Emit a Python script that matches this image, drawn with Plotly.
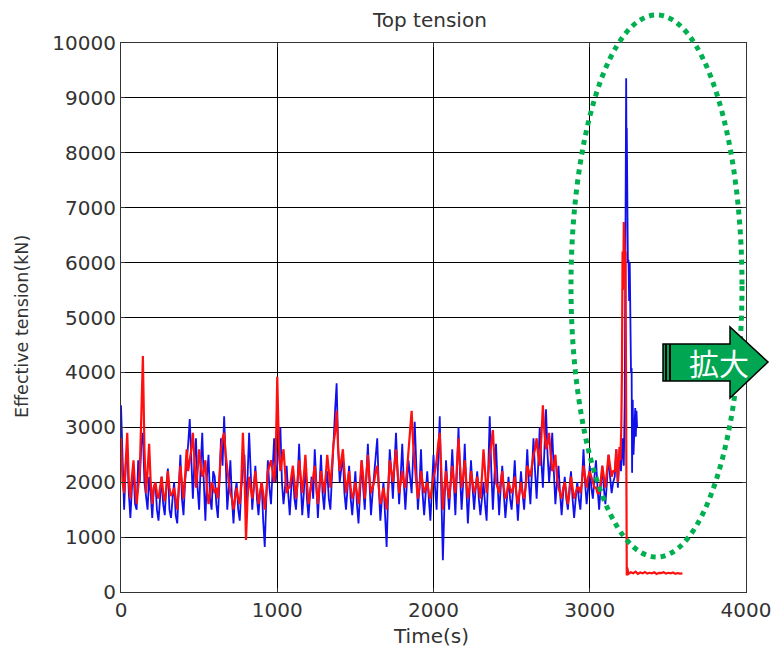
import plotly.graph_objects as go

# ---------------- data ----------------
step_times = list(range(0, 3160, 10))
blue_body = [
    3400, 2200, 1500, 2300, 2600, 1800, 1350, 1900, 2200, 1600, 1500, 2400, 2000, 2700, 2900, 2000, 1700, 1500, 2100, 1800,
    1350, 1900, 2000, 1500, 1300, 1800, 2100, 1600, 1400, 1900, 2250, 1500, 1350, 1700, 2000, 1400, 1250, 1900, 2500, 1700,
    1400, 2000, 2300, 2700, 3150, 2200, 1700, 2400, 2800, 1900, 1500, 2300, 2900, 2000, 1300, 2100, 2500, 1700, 1500, 2200,
    2100, 1600, 1350, 2000, 2800, 2300, 3200, 2400, 1500, 1900, 2400, 1700, 1250, 1800, 2000, 1500, 1300, 1900, 2200, 2500,
    1600, 2100, 2900, 2000, 1500, 1900, 2300, 1700, 1400, 1800, 2000, 1300, 820, 1700, 2400, 1900, 1600, 2200, 2800, 2000,
    2300, 2600, 3000, 2000, 1600, 1900, 2300, 1800, 1400, 1900, 2200, 1700, 1500, 2000, 2700, 2000, 1400, 1800, 2400, 1700,
    1350, 1800, 2100, 1700, 2600, 2000, 1350, 1900, 2500, 1800, 1500, 2000, 2200, 1700, 1500, 2100, 2800, 3300, 3800, 2600,
    2000, 2300, 2500, 1800, 1500, 1900, 2300, 1700, 1400, 1800, 2200, 1600, 1250, 1800, 2400, 1900, 1500, 2100, 2700, 2000,
    1400, 1800, 2100, 2500, 2800, 1900, 1300, 1700, 2000, 1400, 820, 1800, 2600, 2200, 1700, 2300, 2900, 2200, 1600, 2100,
    2700, 2000, 1500, 2000, 2400, 2100, 1800, 2500, 3100, 2300, 1500, 1900, 2600, 1800, 1400, 1800, 2200, 1700, 1300, 1900,
    2500, 1900, 1500, 2400, 3200, 1800, 580, 1600, 2400, 1900, 1500, 2000, 2600, 2000, 1400, 2200, 3000, 2100, 1500, 2000,
    2700, 1900, 1250, 1800, 2400, 1900, 1500, 1900, 2200, 1700, 1400, 1700, 2000, 1600, 1300, 2200, 3200, 2200, 1500, 2100,
    2700, 2000, 1400, 1900, 2300, 1800, 1350, 1700, 2100, 1700, 1500, 1900, 2400, 1800, 1300, 1800, 2200, 1800, 1500, 2000,
    2600, 2000, 1600, 2200, 2800, 2200, 1700, 2300, 3000, 2400, 1900, 2600, 3330, 2500, 2000, 2400, 2900, 2200, 1600, 2000,
    2300, 1800, 1400, 1800, 2100, 1700, 1500, 1900, 2200, 1700, 1350, 1700, 2000, 1700, 1500, 2000, 2600, 2000, 1600, 1900,
    2300, 1900, 1700, 2100, 2400, 1900, 1500, 1900, 2300, 1900, 1600, 2000, 2500, 2100, 1800, 2000]
red_body = [
    2800, 2000, 1800, 2400, 2900, 2000, 1700, 2100, 2400, 1900, 1600, 1900, 2200, 3200, 4300, 2600, 1800, 2200, 2700, 2000,
    1600, 1900, 2000, 1800, 1700, 1900, 2100, 1800, 1650, 1900, 2200, 1900, 1750, 1800, 1900, 1700, 1500, 1900, 2300, 2000,
    1700, 2100, 2600, 2200, 2400, 2600, 2900, 2300, 1900, 2200, 2600, 2300, 2100, 2200, 2400, 1900, 1600, 1800, 2000, 1900,
    1800, 1900, 1700, 2100, 2600, 2800, 2900, 2500, 2200, 2000, 1800, 1700, 1500, 1700, 1900, 1700, 1600, 2000, 2900, 2200,
    950, 1700, 2100, 1900, 1700, 1900, 2200, 1900, 1600, 1800, 2000, 1800, 1500, 1800, 2200, 2300, 2400, 2200, 2000, 2400,
    3920, 2700, 2200, 2400, 2600, 2200, 1800, 1900, 1900, 2100, 2300, 2000, 1700, 2000, 2400, 2100, 1800, 2100, 2500, 2000,
    1600, 1800, 2000, 2100, 2300, 1900, 1600, 1900, 2200, 2000, 1800, 2100, 2500, 2200, 1900, 2300, 2700, 2900, 3300, 2600,
    2200, 2400, 2600, 2200, 1800, 2000, 2200, 1900, 1700, 1800, 2000, 1800, 1600, 2000, 2400, 2100, 1700, 2100, 2500, 2100,
    1800, 1900, 2000, 2200, 2300, 1900, 1600, 1700, 1900, 1700, 1500, 1900, 2400, 2200, 2000, 2300, 2600, 2200, 1800, 2000,
    2200, 2000, 1900, 2200, 2600, 2900, 3300, 2700, 2300, 2000, 1700, 1900, 2200, 2000, 1800, 1900, 2000, 1800, 1700, 1900,
    2100, 2200, 2400, 2700, 2900, 2200, 1500, 1900, 2200, 1900, 1700, 2000, 2300, 2000, 1800, 2300, 2800, 2300, 1900, 2100,
    2400, 2000, 1700, 1900, 2200, 2000, 1800, 1900, 2100, 1900, 1700, 2100, 2600, 2200, 1800, 2100, 2500, 2700, 2950, 2400,
    2000, 1900, 1800, 2000, 2200, 1900, 1700, 1800, 2000, 1900, 1800, 1900, 2100, 1800, 1600, 1800, 2000, 1800, 1700, 1900,
    2300, 2200, 2100, 2300, 2500, 2600, 2800, 2500, 2300, 2800, 3400, 2900, 2600, 2700, 2900, 2500, 2200, 2300, 2500, 2100,
    1900, 1800, 1700, 1900, 2000, 1800, 1600, 1800, 2100, 1900, 1700, 1800, 1900, 1900, 1800, 2000, 2300, 2100, 1900, 2100,
    2200, 2100, 2000, 1900, 1900, 1800, 1800, 2000, 2300, 2100, 1900, 2200, 2500, 2300, 2100, 2200]

blue_spike_t = [3160, 3170, 3180, 3190, 3200, 3210, 3218, 3224, 3228, 3231,
                3233, 3235, 3237, 3239, 3241, 3244, 3248, 3252, 3256, 3260,
                3264, 3268, 3271, 3275, 3280, 3285, 3291, 3295, 3299, 3303]
blue_spike_v = [2100, 2600, 1900, 2500, 2200, 2800, 2300, 3500, 6000, 8450,
                9360, 8200, 8450, 6500, 8000, 6000, 6050, 5300, 6000, 5250,
                4000, 4080, 2170, 3500, 2500, 3100, 3350, 2830, 3300, 3000]

red_spike_t = [3160, 3170, 3180, 3190, 3196, 3202, 3206, 3210, 3214, 3218,
               3222, 3226, 3229, 3232, 3234, 3237, 3240, 3248, 3263, 3278,
               3293, 3308, 3323, 3338, 3353, 3368, 3383, 3398, 3413, 3428,
               3443, 3458, 3473, 3488, 3503, 3518, 3533, 3548, 3563, 3578, 3593]
red_spike_v = [2200, 2600, 2000, 2640, 2400, 3000, 4000, 6200, 5500, 6740,
               6200, 6000, 6200, 800, 820, 300, 440, 330, 360, 340,
               370, 330, 355, 340, 365, 335, 350, 340, 360, 330,
               350, 345, 360, 335, 350, 340, 355, 330, 345, 335, 340]

x_ticks = [0, 1000, 2000, 3000, 4000]
y_ticks = [0, 1000, 2000, 3000, 4000, 5000, 6000, 7000, 8000, 9000, 10000]

blue_t = step_times + blue_spike_t
blue_v = blue_body + blue_spike_v
red_t = step_times + red_spike_t
red_v = red_body + red_spike_v

# ---------------- layout geometry ----------------
W, H = 771, 648
L, R, T, B = 121, 746, 43, 592


def px(xp):
    return (xp - L) / (R - L)


def py(yp):
    return (B - yp) / (B - T)


fig = go.Figure()
fig.add_trace(go.Scatter(x=blue_t, y=blue_v, mode="lines",
                         line=dict(color="#1010ee", width=1.8), showlegend=False))
fig.add_trace(go.Scatter(x=red_t, y=red_v, mode="lines",
                         line=dict(color="#ff1010", width=2.2), showlegend=False))

font_family = "DejaVu Sans, sans-serif"
axis_common = dict(showgrid=True, gridcolor="black", gridwidth=1,
                   showline=True, linecolor="#333", linewidth=1.2, mirror="ticks",
                   ticks="inside", ticklen=4, tickcolor="#333", zeroline=False,
                   automargin=False, ticklabeloverflow="allow",
                   tickfont=dict(family=font_family, size=20, color="#333"))

fig.update_layout(
    width=W, height=H,
    margin=dict(l=L, r=W - R, t=T, b=H - B),
    paper_bgcolor="white", plot_bgcolor="white",
    xaxis=dict(range=[0, 4000], tickvals=x_ticks,
               ticktext=[str(v) for v in x_ticks], **axis_common),
    yaxis=dict(range=[0, 10000], tickvals=y_ticks,
               ticktext=[str(v) for v in y_ticks], **axis_common),
)

# titles
fig.add_annotation(text="Top tension", x=px(429), y=py(20), xref="paper", yref="paper",
                   xanchor="center", yanchor="middle", showarrow=False,
                   font=dict(family=font_family, size=20, color="#333"))
fig.add_annotation(text="Time(s)", x=px(431), y=py(636), xref="paper", yref="paper",
                   xanchor="center", yanchor="middle", showarrow=False,
                   font=dict(family=font_family, size=20, color="#333"))
fig.add_annotation(text="Effective tension(kN)", x=px(22), y=py(326), xref="paper", yref="paper",
                   xanchor="center", yanchor="middle", textangle=-90, showarrow=False,
                   font=dict(family=font_family, size=17.5, color="#333"))

# dotted ellipse
fig.add_shape(type="circle", xref="paper", yref="paper",
              x0=px(571), x1=px(742), y0=py(557), y1=py(15),
              line=dict(color="#00b050", width=5, dash="5px,5px"))

# block arrow
pts = [(663, 344), (730, 344), (730, 327), (768, 362), (730, 398), (730, 381), (663, 381)]
path = "M " + " L ".join(f"{px(a):.5f},{py(b):.5f}" for a, b in pts) + " Z"
fig.add_shape(type="path", path=path, xref="paper", yref="paper",
              fillcolor="#00a651", line=dict(color="black", width=1.5))
for xb in (666, 670):
    fig.add_shape(type="line", xref="paper", yref="paper",
                  x0=px(xb), x1=px(xb), y0=py(344), y1=py(381),
                  line=dict(color="black", width=2))
fig.add_annotation(text="拡大", x=px(719), y=py(362), xref="paper", yref="paper",
                   xanchor="center", yanchor="middle", showarrow=False,
                   font=dict(family="Noto Sans CJK JP", size=30, color="white"))

fig.write_html("out.html")
